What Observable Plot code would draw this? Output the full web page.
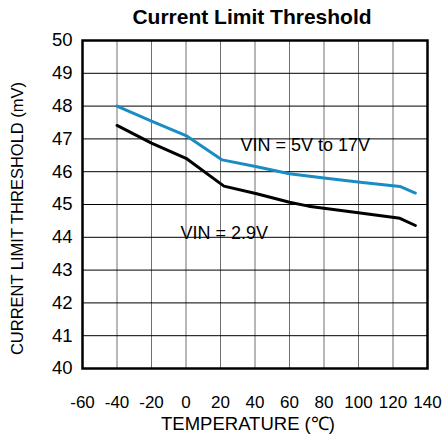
<!DOCTYPE html>
<html><head><meta charset="utf-8">
<script src="https://cdn.jsdelivr.net/npm/d3@7"></script>
<script src="https://cdn.jsdelivr.net/npm/@observablehq/plot@0.6"></script>
<style>body{margin:0;background:#fff;} svg{font-family:"Liberation Sans",Arial,sans-serif;}</style>
</head><body><div id="chart"></div>
<script>
const tempHigh = [-40, -20, 0, 21, 41, 60, 80, 101, 124, 133];
const vHigh = [48.0, 47.54, 47.1, 46.36, 46.15, 45.94, 45.81, 45.68, 45.55, 45.35];
const tempLow = [-40, -20, 0, 22, 41, 60, 71, 101, 124, 133];
const vLow = [47.41, 46.87, 46.41, 45.56, 45.33, 45.07, 44.95, 44.74, 44.58, 44.36];
const xTicks = [-60, -40, -20, 0, 20, 40, 60, 80, 100, 120, 140];
const yTicks = [40, 41, 42, 43, 44, 45, 46, 47, 48, 49, 50];
const labels = [
  {t: 31.6, v: 46.81, text: "VIN = 5V to 17V"},
  {t: -3.2, v: 44.11, text: "VIN = 2.9V"}
];
const title = "Current Limit Threshold";
const xLabel = "TEMPERATURE (℃)";
const yLabel = "CURRENT LIMIT THRESHOLD (mV)";
const high = tempHigh.map((t, i) => ({t, v: vHigh[i]}));
const low = tempLow.map((t, i) => ({t, v: vLow[i]}));
const fmt = d => `${d}`;

const chart = Plot.plot({
  width: 443, height: 436,
  marginLeft: 82, marginRight: 16, marginTop: 40, marginBottom: 68,
  style: {fontFamily: "Liberation Sans, Arial, sans-serif", fontSize: "17px", color: "#000", background: "#fff"},
  x: {domain: [-60, 140], label: null},
  y: {domain: [40, 50], label: null},
  marks: [
    Plot.gridX(xTicks, {stroke: "#707070", strokeOpacity: 1, strokeWidth: 1}),
    Plot.gridY(yTicks, {stroke: "#000", strokeOpacity: 1, strokeWidth: 1}),
    Plot.axisX(xTicks, {tickSize: 0, tickPadding: 27, tickFormat: fmt, fontSize: 17, label: null}),
    Plot.axisY(yTicks, {tickSize: 0, tickPadding: 10, tickFormat: fmt, fontSize: 18.5, label: null}),
    Plot.frame({stroke: "#000", strokeWidth: 2.5}),
    Plot.line(high, {x: "t", y: "v", stroke: "#1a8cc4", strokeWidth: 3}),
    Plot.line(low, {x: "t", y: "v", stroke: "#000", strokeWidth: 3}),
    Plot.text(labels, {x: "t", y: "v", text: "text", textAnchor: "start", lineAnchor: "middle", fontSize: 18, fill: "#000"}),
    Plot.text([title], {frameAnchor: "top", lineAnchor: "middle", dy: -23, dx: -3, fontSize: 21, fontWeight: "bold", fill: "#000"}),
    Plot.text([xLabel], {frameAnchor: "bottom", lineAnchor: "middle", dy: 56, dx: -7, fontSize: 18.5, fill: "#000"}),
    Plot.text([yLabel], {frameAnchor: "left", textAnchor: "middle", lineAnchor: "middle", rotate: -90, dx: -64.5, dy: 14, fontSize: 16.5, fill: "#000"})
  ]
});
document.getElementById("chart").appendChild(chart);
</script></body></html>
